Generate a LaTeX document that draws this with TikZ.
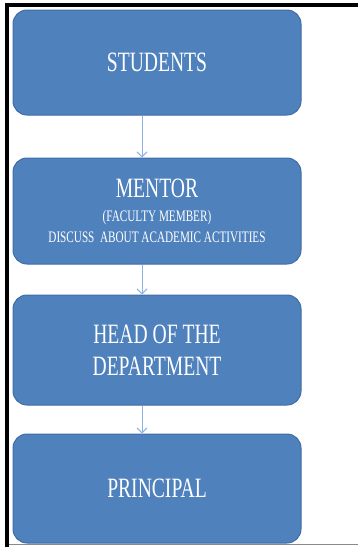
\documentclass[tikz,border=0pt]{standalone}
\usepackage{fontspec}
\setmainfont{Liberation Serif}
\newfontfamily\narrowfont[FakeStretch=0.7]{Liberation Serif}
\usetikzlibrary{arrows.meta, positioning}
\definecolor{cblue}{HTML}{4F81BD}
\definecolor{cedge}{HTML}{3F6DA6}
\definecolor{carrow}{HTML}{8DB3E2}
\definecolor{cline}{HTML}{8A8A8A}
\tikzset{
  every picture/.style={x=1pt, y=1pt},
  box/.style={draw=cedge, fill=cblue, line width=1pt, rounded corners=14pt, minimum width=288pt,
    text=white, align=center, inner sep=0pt},
  arrow/.style={-{Straight Barb[length=5pt, width=10pt]}, draw=carrow, line width=1pt},
  frame/.style={draw=black, line width=4pt},
}
\newcommand{\bigtxt}{\narrowfont\fontsize{28}{32}\selectfont}
\newcommand{\smalltxt}{\narrowfont\fontsize{16}{21}\selectfont}

\begin{document}
\begin{tikzpicture}
  \useasboundingbox (0,0) rectangle (358,-547);
  % page frame
  \draw[frame] (7,-547) -- (7,-5) -- (358,-5);
  \draw[cline, line width=0.8pt] (9,-544.5) -- (358,-544.5);
  \foreach \Y/\H/\f/\txt [count=\k] in {
     -62.5/105pt/\bigtxt/{STUDENTS},
     -211/106pt/\smalltxt/{{\bigtxt MENTOR}\\[3pt](FACULTY MEMBER)\\DISCUSS\ \ ABOUT ACADEMIC ACTIVITIES},
     -350/110pt/\bigtxt/{HEAD OF THE\\DEPARTMENT},
     -488.5/109pt/\bigtxt/{PRINCIPAL}} {
    \node[box, minimum height=\H, font=\f] (b\k) at (157,\Y) {\txt};
  }
  \foreach \a/\b in {1/2, 2/3, 3/4}
    \draw[arrow] ([xshift=-15pt]b\a.south) -- ([xshift=-15pt]b\b.north);
\end{tikzpicture}
\end{document}
